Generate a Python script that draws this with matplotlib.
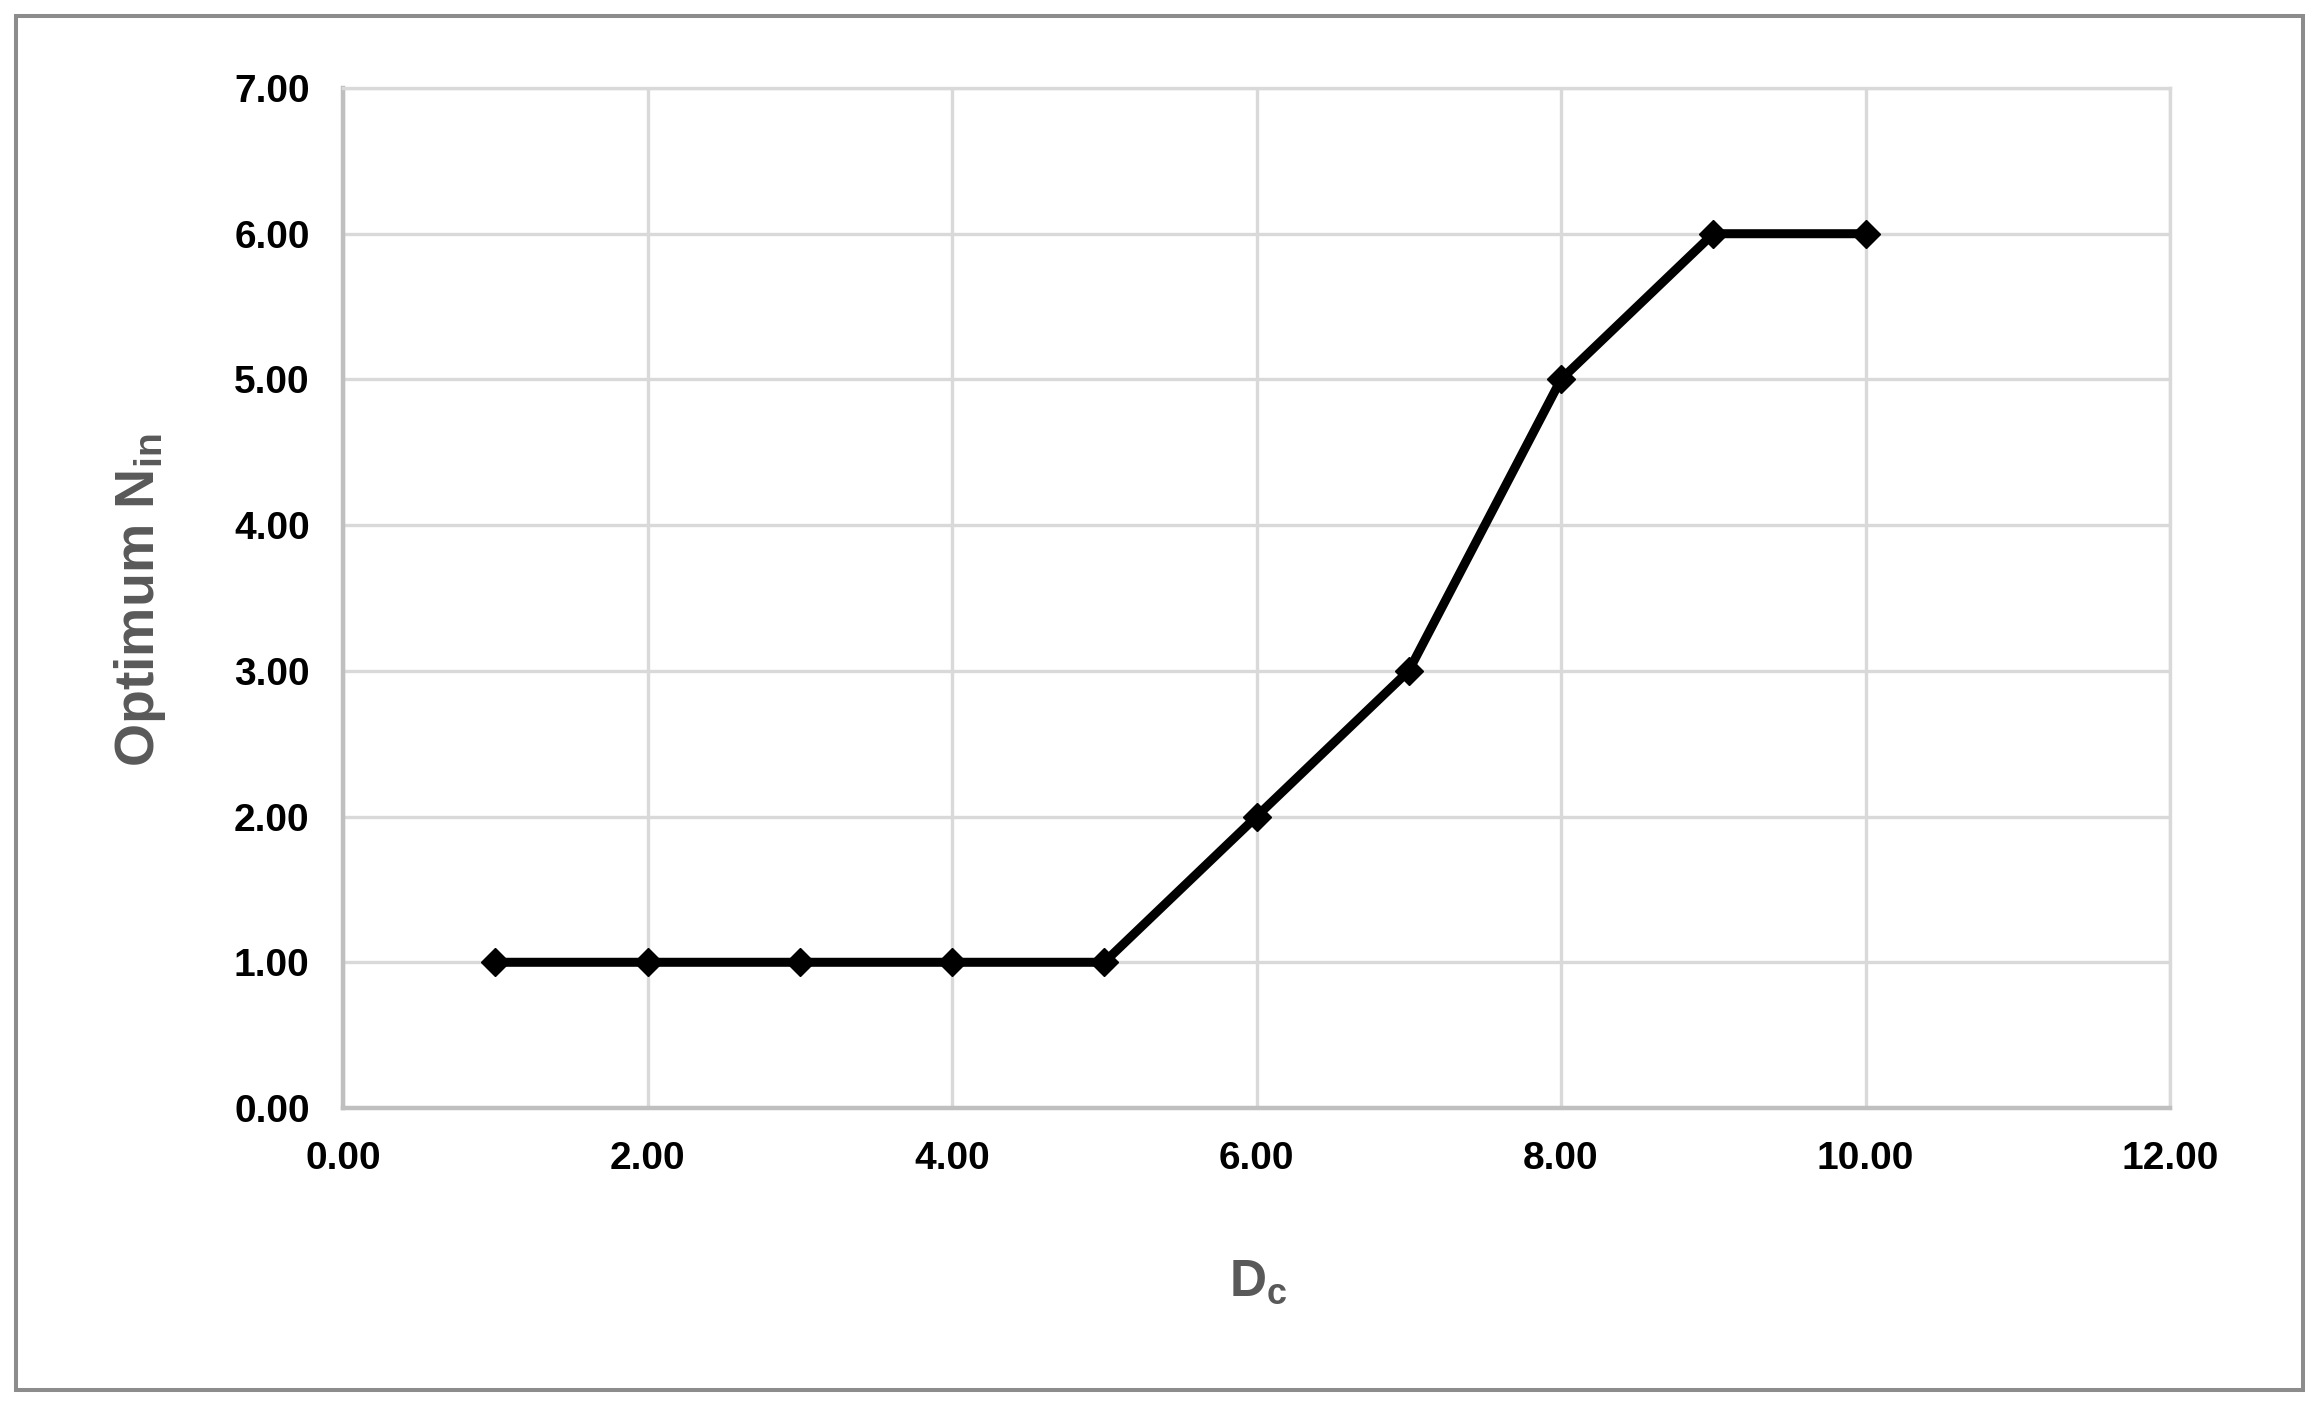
import matplotlib
matplotlib.use("Agg")
import matplotlib.pyplot as plt
from matplotlib.patches import Rectangle

plt.rcParams['font.family'] = ['Liberation Sans', 'DejaVu Sans']
plt.rcParams['mathtext.fontset'] = 'custom'
plt.rcParams['mathtext.rm'] = 'Liberation Sans:bold'
plt.rcParams['mathtext.bf'] = 'Liberation Sans:bold'
plt.rcParams['mathtext.it'] = 'Liberation Sans:bold'

# Data
dc_values = [1, 2, 3, 4, 5, 6, 7, 8, 9, 10]
optimum_nin = [1, 1, 1, 1, 1, 2, 3, 5, 6, 6]
x_ticks = [0, 2, 4, 6, 8, 10, 12]
y_ticks = [0, 1, 2, 3, 4, 5, 6, 7]
x_label = r'D$_{\mathbf{c}}$'
y_label = r'Optimum N$_{\mathbf{in}}$'

W, H = 2320, 1405
fig = plt.figure(figsize=(W / 100, H / 100), dpi=100)
fig.patch.set_facecolor('white')

# outer frame
fig.add_artist(Rectangle((15.5 / W, 1 - 1390 / H), (2303 - 15.5) / W, (1390 - 16) / H,
                         transform=fig.transFigure, fill=False,
                         edgecolor='#8c8c8c', linewidth=2.9))

ax = fig.add_axes([343 / W, 1 - 1108 / H, (2170 - 343) / W, (1108 - 88) / H])
ax.plot(dc_values, optimum_nin, color='black', linewidth=6.5, marker='D',
        markersize=14, markerfacecolor='black', markeredgecolor='black', zorder=3,
        clip_on=False)

ax.set_xlim(0, 12)
ax.set_ylim(0, 7)
ax.set_xticks(x_ticks)
ax.set_yticks(y_ticks)
ax.set_xticklabels([f"{v:.2f}" for v in x_ticks])
ax.set_yticklabels([f"{v:.2f}" for v in y_ticks])
ax.tick_params(axis='both', length=0, labelsize=28, colors='black')
ax.tick_params(axis='x', pad=24)
ax.tick_params(axis='y', pad=24)
for lab in ax.get_xticklabels() + ax.get_yticklabels():
    lab.set_fontweight('bold')

ax.grid(True, color='#d9d9d9', linewidth=2.4, zorder=0)
ax.set_axisbelow(True)
for side in ['top', 'right']:
    ax.spines[side].set_color('#d9d9d9')
    ax.spines[side].set_linewidth(2.4)
for side in ['left', 'bottom']:
    ax.spines[side].set_color('#bfbfbf')
    ax.spines[side].set_linewidth(3.2)

fig.text(140 / W, 1 - 600 / H, y_label, rotation=90, ha='center', va='center',
         fontsize=40, color='#595959', fontweight='bold')
fig.text(1258 / W, 1 - 1282 / H, x_label, ha='center', va='center',
         fontsize=37, color='#595959', fontweight='bold')

fig.savefig('out.png', dpi=100, facecolor='white')
